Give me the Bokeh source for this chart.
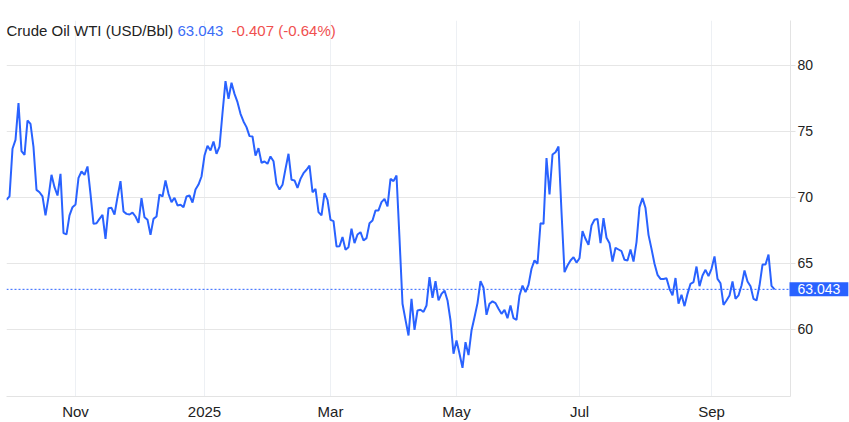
import pandas as pd
from bokeh.plotting import figure
from bokeh.models import Range1d, FixedTicker, Label, Span
from bokeh.embed import file_html
from bokeh.resources import INLINE

prices = [
    69.83, 70.08, 73.69, 74.37, 77.15, 73.51, 73.23, 75.83, 75.58, 73.81,
    70.58, 70.40, 70.08, 68.64, 70.03, 71.72, 70.78, 70.15, 71.79, 67.30,
    67.20, 68.64, 69.27, 69.47, 71.49, 71.97, 71.72, 72.35, 70.28, 68.00,
    68.05, 68.38, 68.69, 66.87, 69.19, 69.22, 68.71, 70.03, 71.24, 68.94,
    68.76, 68.71, 68.86, 68.56, 68.08, 69.95, 68.50, 68.31, 67.17, 68.38,
    68.56, 70.23, 70.08, 71.29, 70.28, 69.65, 69.98, 69.40, 69.45, 69.27,
    70.08, 70.15, 69.62, 70.61, 70.98, 71.59, 73.18, 73.92, 73.56, 74.24,
    73.31, 73.86, 76.40, 78.81, 77.47, 78.69, 77.85, 77.22, 76.34, 75.76,
    75.33, 74.65, 74.62, 73.18, 73.74, 72.63, 72.73, 72.55, 73.11, 72.75,
    71.04, 70.61, 70.96, 72.17, 73.31, 71.34, 71.29, 70.73, 71.41, 71.84,
    72.10, 72.42, 70.40, 70.66, 68.89, 68.64, 70.33, 69.82, 68.31, 68.21,
    66.29, 66.31, 67.00, 66.04, 66.24, 67.63, 66.54, 67.20, 67.37, 66.74,
    66.92, 68.05, 68.26, 69.02, 69.02, 69.65, 69.90, 69.32, 71.41, 71.24,
    71.67, 66.90, 61.95, 60.73, 59.55, 62.32, 59.97, 61.44, 61.50, 61.33,
    61.82, 63.96, 62.40, 63.66, 62.20, 62.70, 62.95, 62.20, 60.68, 58.16,
    59.17, 58.16, 57.10, 59.04, 58.06, 59.92, 60.93, 62.00, 63.66, 63.16,
    61.11, 61.95, 62.13, 62.00, 61.57, 61.19, 61.49, 60.86, 61.82, 60.86,
    60.73, 62.58, 63.33, 62.83, 63.38, 64.60, 65.23, 64.98, 68.05, 68.00,
    72.98, 70.23, 73.26, 73.43, 73.86, 68.90, 64.34, 64.85, 65.23, 65.48,
    65.07, 65.40, 67.45, 66.87, 66.41, 67.88, 68.31, 68.38, 66.54, 68.43,
    66.95, 66.54, 65.15, 66.19, 66.06, 65.93, 65.28, 65.23, 66.06, 65.15,
    66.62, 69.27, 69.95, 69.20, 67.17, 66.11, 64.98, 64.14, 63.83, 63.83,
    63.88, 63.08, 62.58, 63.90, 61.95, 62.63, 61.77, 62.70, 63.46, 63.59,
    64.77, 63.28, 64.09, 64.52, 64.04, 64.60, 65.53, 63.83, 63.50, 61.87,
    62.20, 62.58, 63.64, 62.32, 62.58, 63.33, 64.47, 63.64, 63.28, 62.32,
    62.20, 63.33, 64.92, 64.92, 65.68, 63.30, 63.043,
]
closed_days = ["2025-01-01", "2025-04-18", "2025-05-26", "2025-06-19"]
dates = [d for d in pd.bdate_range("2024-10-01", "2025-09-30")
         if d.strftime("%Y-%m-%d") not in closed_days]
dates = dates[:len(prices)]

y_ticks = [60, 65, 70, 75, 80]
tick_months = [(2024, 11), (2025, 1), (2025, 3), (2025, 5), (2025, 7), (2025, 9)]
tick_labels = ["Nov", "2025", "Mar", "May", "Jul", "Sep"]

title_name = "Crude Oil WTI (USD/Bbl)"
last_price = "63.043"
change_text = "-0.407 (-0.64%)"

idx = list(range(len(prices)))
month_ticks = []
for (yy, mm) in tick_months:
    for i, d in enumerate(dates):
        if d.year == yy and d.month == mm:
            month_ticks.append(i)
            break

FONT = "Liberation Sans"
BLUE = "#2962ff"
TOP = 20  # top panel height in px (holds the last-value badge)

p = figure(width=849, height=422, output_backend="svg", toolbar_location=None,
           title=None,
           x_range=Range1d(0, 261.33),
           y_range=Range1d(54.924, 80 + (65 - TOP) / 13.2),
           y_axis_location="right",
           min_border_left=6, min_border_top=TOP, min_border_right=59,
           min_border_bottom=26)
p.outline_line_color = None
p.background_fill_color = "white"
p.border_fill_color = "white"

p.line(idx, prices, line_color=BLUE, line_width=2)

p.add_layout(Span(location=float(last_price), dimension="width",
                  line_color=BLUE, line_width=1, line_dash="2 2"))

p.xaxis.ticker = FixedTicker(ticks=month_ticks, minor_ticks=[])
p.xaxis.major_label_overrides = {t: l for t, l in zip(month_ticks, tick_labels)}
p.xaxis.major_tick_out = 0
p.xaxis.major_tick_in = 0
p.xaxis.minor_tick_out = 0
p.xaxis.minor_tick_in = 0
p.xaxis.axis_line_color = "#e3e3e3"
p.xaxis.major_label_standoff = 6
p.xaxis.major_label_text_font = FONT
p.xaxis.major_label_text_font_size = "15px"
p.xaxis.major_label_text_color = "#222222"

p.yaxis.ticker = FixedTicker(ticks=y_ticks, minor_ticks=[])
p.yaxis.axis_line_color = "#e3e3e3"
p.yaxis.major_tick_line_color = "#e3e3e3"
p.yaxis.major_tick_out = 5
p.yaxis.major_tick_in = 0
p.yaxis.minor_tick_out = 0
p.yaxis.minor_tick_in = 0
p.yaxis.major_label_standoff = 2
p.yaxis.major_label_text_font = FONT
p.yaxis.major_label_text_font_size = "14px"
p.yaxis.major_label_text_color = "#222222"

p.xgrid.ticker = FixedTicker(ticks=month_ticks)
p.xgrid.grid_line_color = "#edf0f4"
p.ygrid.ticker = FixedTicker(ticks=y_ticks)
p.ygrid.grid_line_color = "#e6e6e6"

p.add_layout(Label(x=0, y=366, x_units="screen", y_units="screen", text=title_name,
                   text_font=FONT, text_font_size="15px", text_color="#222222",
                   text_baseline="middle"))
p.add_layout(Label(x=171, y=366, x_units="screen", y_units="screen", text=last_price,
                   text_font=FONT, text_font_size="15px", text_color="#3b6cf6",
                   text_baseline="middle"))
p.add_layout(Label(x=225, y=366, x_units="screen", y_units="screen", text=change_text,
                   text_font=FONT, text_font_size="15px", text_color="#f0504f",
                   text_baseline="middle"))

# last value badge: placed in a side panel so that it is not clipped to the frame
p.add_layout(Label(x=783, y=float(last_price), x_units="screen", y_units="data",
                   text=last_price, text_font=FONT, text_font_size="14px",
                   text_color="white", text_baseline="middle",
                   background_fill_color=BLUE, padding=(8, 2)), "above")

open("out.html", "w").write(file_html(p, INLINE))
